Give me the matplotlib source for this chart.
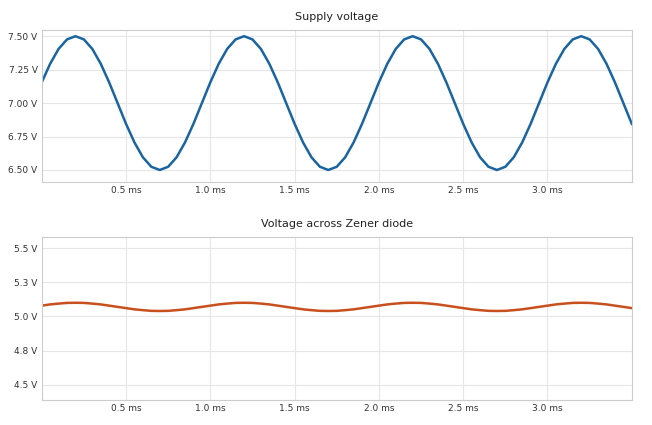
import numpy as np
import matplotlib.pyplot as plt

# time axis in ms, sampled every 0.05 ms
time_ms = np.round(np.arange(0, 3.5001, 0.05), 3)

supply_cycle = [7.155, 7.294, 7.405, 7.476, 7.500, 7.476, 7.405, 7.294, 7.155, 7.000,
                6.845, 6.706, 6.595, 6.524, 6.500, 6.524, 6.595, 6.706, 6.845, 7.000]
zener_cycle = [5.079, 5.088, 5.094, 5.099, 5.100, 5.099, 5.094, 5.088, 5.079, 5.070,
               5.061, 5.052, 5.046, 5.041, 5.040, 5.041, 5.046, 5.052, 5.061, 5.070]
supply_v = (supply_cycle * 4)[:len(time_ms)]
zener_v = (zener_cycle * 4)[:len(time_ms)]

x_ticks = [0.5, 1.0, 1.5, 2.0, 2.5, 3.0]
top_ticks = [6.5, 6.75, 7.0, 7.25, 7.5]
top_labels = ['6.50 V', '6.75 V', '7.00 V', '7.25 V', '7.50 V']
bot_ticks = [4.5, 4.75, 5.0, 5.25, 5.5]
bot_labels = ['4.5 V', '4.8 V', '5.0 V', '5.3 V', '5.5 V']

fig, (ax1, ax2) = plt.subplots(2, 1, figsize=(6.52, 4.25), dpi=100,
                               gridspec_kw={'height_ratios': [152, 163]})
fig.subplots_adjust(left=0.064, right=0.969, top=0.929, bottom=0.059, hspace=0.35)

def style(ax, title, yticks, ylabels, ylim):
    ax.set_title(title, fontsize=8, color='#222222', pad=7)
    ax.set_xlim(0, 3.5)
    ax.set_ylim(*ylim)
    ax.set_xticks(x_ticks)
    ax.set_xticklabels([f'{t:.1f} ms' for t in x_ticks])
    ax.set_yticks(yticks)
    ax.set_yticklabels(ylabels)
    ax.grid(True, color='#e6e6e6', linewidth=0.8)
    ax.tick_params(labelsize=6.5, colors='#333333', length=0, pad=3)
    for s in ax.spines.values():
        s.set_color('#cccccc')
        s.set_linewidth(0.8)

ax1.plot(time_ms, supply_v, color='#1a64a0', linewidth=1.8)
style(ax1, 'Supply voltage', top_ticks, top_labels, (6.41, 7.545))

ax2.plot(time_ms, zener_v, color='#c8501e', linewidth=1.8)
style(ax2, 'Voltage across Zener diode', bot_ticks, bot_labels, (4.39, 5.58))

fig.savefig('out.png')
